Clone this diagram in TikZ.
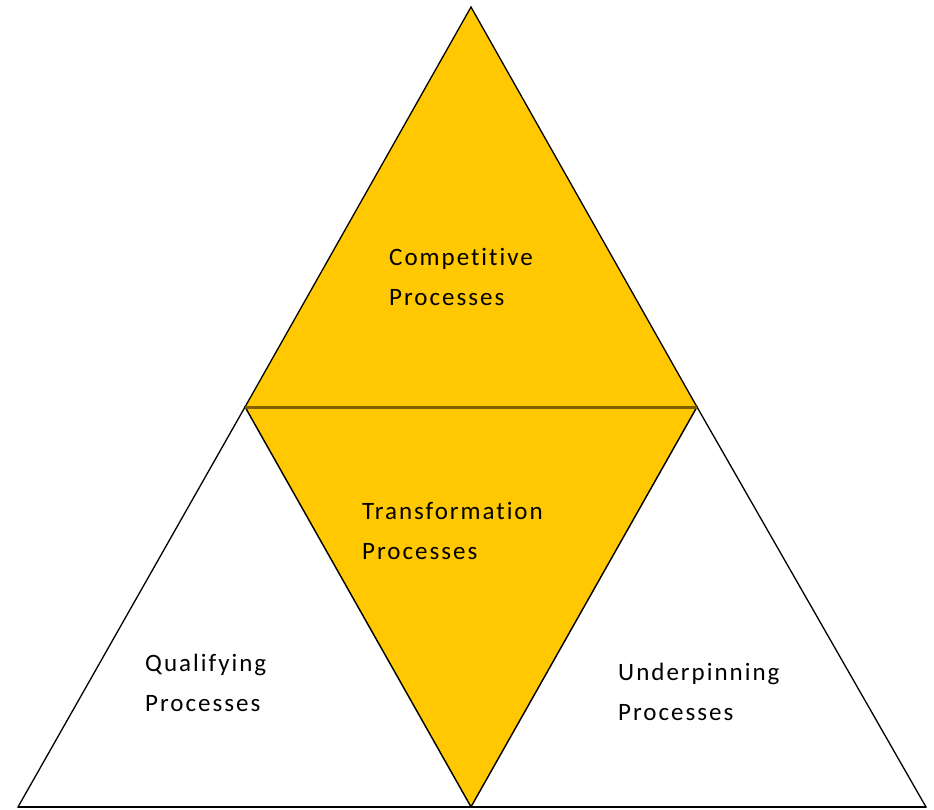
\documentclass[tikz,border=0pt]{standalone}
\usepackage{fontspec}
\setmainfont{Carlito}[LetterSpace=8,Ligatures=NoCommon]
\definecolor{gold}{HTML}{FFC800}
\definecolor{midline}{HTML}{7F6000}
\definecolor{baseline}{HTML}{A0A0A0}
\begin{document}
\begin{tikzpicture}[x=1pt,y=-1pt,
  tri/.style={draw=black,line width=1.3pt,line join=miter},
  lbl/.style={anchor=west,align=left,inner sep=0pt,font=\fontsize{25}{40}\selectfont,text=black}]
\useasboundingbox (0,0) rectangle (934,809);
\coordinate (top) at (471,7);
\coordinate (ml) at (245,407);
\coordinate (mr) at (697,407);
\coordinate (bl) at (18,807);
\coordinate (bm) at (471,807);
\coordinate (br) at (926,807);
\draw[tri,fill=gold] (top) -- (ml) -- (mr) -- cycle;
\draw[tri,fill=gold] (ml) -- (mr) -- (bm) -- cycle;
\draw[tri,fill=white] (ml) -- (bl) -- (bm) -- cycle;
\draw[tri,fill=white] (mr) -- (bm) -- (br) -- cycle;
\draw[midline,line width=3pt] (ml) -- (mr);
\draw[baseline,line width=1.5pt] (bl) -- (br);
\node[lbl] (comp) at (389,277) {Competitive\\Processes};
\node[lbl] (trans) at (362,531) {Transformation\\Processes};
\node[lbl] (qual) at (145,683) {Qualifying\\Processes};
\node[lbl] (under) at (618,692) {Underpinning\\Processes};
\end{tikzpicture}
\end{document}
